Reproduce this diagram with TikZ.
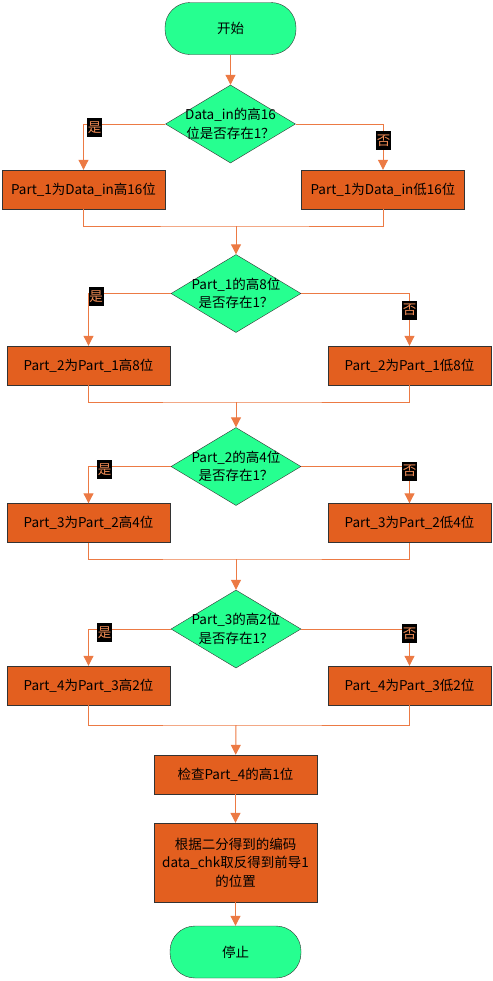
\documentclass[tikz,border=0pt]{standalone}
\usepackage{fontspec}
\setmainfont{Noto Sans CJK SC}
\usetikzlibrary{shapes.geometric,arrows.meta}
\definecolor{mint}{HTML}{26FF90}
\definecolor{rust}{HTML}{E35F1F}
\definecolor{wire}{HTML}{EC7A44}
\definecolor{tagtext}{HTML}{F08C55}
\begin{document}
\begin{tikzpicture}[x=1bp,y=-1bp,font=\fontsize{13.5bp}{18.5bp}\selectfont,
    term/.style={rectangle,rounded corners=25bp,draw=black!80,fill=mint,minimum width=131bp,minimum height=52bp},
    dia/.style={diamond,draw=black!80,fill=mint,minimum width=130bp,minimum height=78bp,inner sep=0pt},
    blk/.style={rectangle,draw=black!80,fill=rust,minimum width=163bp,minimum height=39bp,align=center},
    yn/.style={fill=black,text=tagtext,inner sep=0pt,minimum width=15bp,minimum height=19bp}]
  \useasboundingbox (0,0) rectangle (493,981);
  \node[term] (s) at (230.5,28.5) {开始};
  \node[term] (e) at (235.5,952) {停止};
  \begin{scope}[every label/.style={align=center}]
    \node[dia,label=center:{Data\_in的高16\\位是否存在1？}] (d1) at (230.5,124) {};
    \node[dia,label=center:{Part\_1的高8位\\是否存在1？}] (d2) at (236,293.5) {};
    \node[dia,label=center:{Part\_2的高4位\\是否存在1？}] (d3) at (236,466.5) {};
    \node[dia,label=center:{Part\_3的高2位\\是否存在1？}] (d4) at (236,629) {};
  \end{scope}
  \node[blk] (l1) at (83.5,189.5) {Part\_1为Data\_in高16位};
  \node[blk] (r1) at (383,189.5) {Part\_1为Data\_in低16位};
  \node[blk] (l2) at (88.5,365.5) {Part\_2为Part\_1高8位};
  \node[blk] (r2) at (409.5,365.5) {Part\_2为Part\_1低8位};
  \node[blk] (l3) at (88.5,523) {Part\_3为Part\_2高4位};
  \node[blk] (r3) at (409.5,523) {Part\_3为Part\_2低4位};
  \node[blk] (l4) at (88.5,685.5) {Part\_4为Part\_3高2位};
  \node[blk] (r4) at (409.5,685.5) {Part\_4为Part\_3低2位};
  \node[blk] (c5) at (235.5,774.5) {检查Part\_4的高1位};
  \node[blk,minimum height=79bp] (c6) at (235.5,862.5) {根据二分得到的编码\\data\_chk取反得到前导1\\的位置};
  \coordinate (m1) at (236,226);
  \coordinate (m2) at (236,402);
  \coordinate (m3) at (236,559);
  \coordinate (m4) at (236,725);
  \begin{scope}[color=wire,line width=1bp,>={Triangle[width=10bp,length=10bp]}]
    \draw[->] (s) -- (d1);
    \draw[->] (d1.west) -| (l1.north);
    \draw[->] (d1.east) -| (r1.north);
    \draw (l1.south) |- (m1) -| (r1.south);
    \draw[->] (m1) -- (d2);
    \draw[->] (d2.west) -| (l2.north);
    \draw[->] (d2.east) -| (r2.north);
    \draw (l2.south) |- (m2) -| (r2.south);
    \draw[->] (m2) -- (d3);
    \draw[->] (d3.west) -| (l3.north);
    \draw[->] (d3.east) -| (r3.north);
    \draw (l3.south) |- (m3) -| (r3.south);
    \draw[->] (m3) -- (d4);
    \draw[->] (d4.west) -| (l4.north);
    \draw[->] (d4.east) -| (r4.north);
    \draw (l4.south) |- (m4) -| (r4.south);
    \draw[->] (m4) -- (c5);
    \draw[->] (c5) -- (c6);
    \draw[->] (c6) -- (e);
  \end{scope}
  \node[yn] (y1) at (94.5,127.5) {是};
  \node[yn] (n1) at (383.5,140.5) {否};
  \node[yn] (y2) at (96,296.5) {是};
  \node[yn] (n2) at (409.5,310) {否};
  \node[yn] (y3) at (104.5,469.5) {是};
  \node[yn] (n3) at (409.5,471) {否};
  \node[yn] (y4) at (104.5,632.5) {是};
  \node[yn] (n4) at (409.5,633.5) {否};
\end{tikzpicture}
\end{document}
